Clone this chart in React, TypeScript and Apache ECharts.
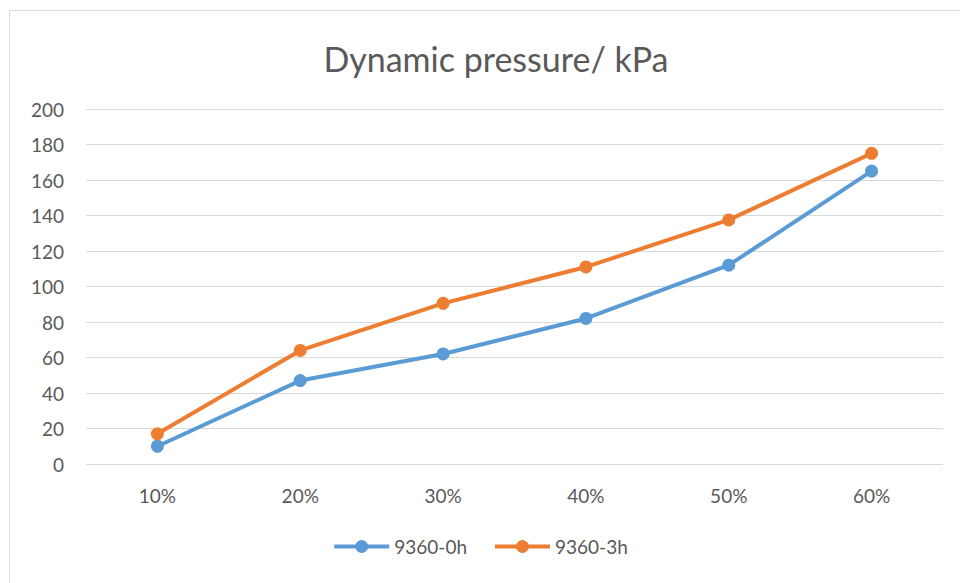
import React, { useEffect, useRef } from "react";
import * as echarts from "echarts";

const categories = ["10%", "20%", "30%", "40%", "50%", "60%"];
const series0h = [10, 47, 62, 82, 112, 165];
const series3h = [17, 64, 90.5, 111, 137.5, 175];
const seriesNames = ["9360-0h", "9360-3h"];
const titleText = "Dynamic pressure/ kPa";

export default function App() {
  const ref = useRef<HTMLDivElement>(null);
  useEffect(() => {
    document.body.style.margin = "0";
    const chart = echarts.init(ref.current!, null, { renderer: "svg" });
    const font = "Lato, 'Open Sans', sans-serif";
    chart.setOption({
      animation: false,
      backgroundColor: "#ffffff",
      textStyle: { fontFamily: font },
      title: {
        text: titleText,
        left: 491,
        textAlign: "center",
        top: 36,
        textStyle: { fontFamily: font, fontSize: 34, fontWeight: "normal", color: "#595959" },
      },
      graphic: [
        {
          type: "rect",
          shape: { x: 9.5, y: 10.5, width: 1000, height: 1000 },
          style: { fill: "none", stroke: "#d9d9d9", lineWidth: 1 },
          silent: true,
        },
      ],
      legend: {
        bottom: 22,
        left: "center",
        itemWidth: 55,
        itemHeight: 16,
        itemGap: 26,
        lineStyle: { width: 4 },
        textStyle: { fontFamily: font, fontSize: 19, color: "#595959", padding: [0, 0, 0, 0] },
        data: seriesNames,
      },
      grid: { left: 86, right: 17, top: 109, bottom: 119 },
      xAxis: {
        type: "category",
        data: categories,
        boundaryGap: true,
        axisLine: { show: false },
        axisTick: { show: false },
        axisLabel: { fontFamily: font, fontSize: 19, color: "#595959", margin: 22 },
      },
      yAxis: {
        type: "value",
        min: 0,
        max: 200,
        interval: 20,
        axisLine: { show: false },
        axisTick: { show: false },
        axisLabel: { fontFamily: font, fontSize: 19, color: "#595959", margin: 22, align: "right" },
        splitLine: { lineStyle: { color: "#d9d9d9", width: 1 } },
      },
      series: [
        {
          name: seriesNames[0],
          type: "line",
          data: series0h,
          color: "#5B9BD5",
          lineStyle: { width: 4, color: "#5B9BD5" },
          symbol: "circle",
          symbolSize: 13,
          itemStyle: { color: "#5B9BD5" },
        },
        {
          name: seriesNames[1],
          type: "line",
          data: series3h,
          color: "#ED7D31",
          lineStyle: { width: 4, color: "#ED7D31" },
          symbol: "circle",
          symbolSize: 13,
          itemStyle: { color: "#ED7D31" },
        },
      ],
    });
    return () => chart.dispose();
  }, []);
  return <div ref={ref} style={{ width: 960, height: 583 }} />;
}
